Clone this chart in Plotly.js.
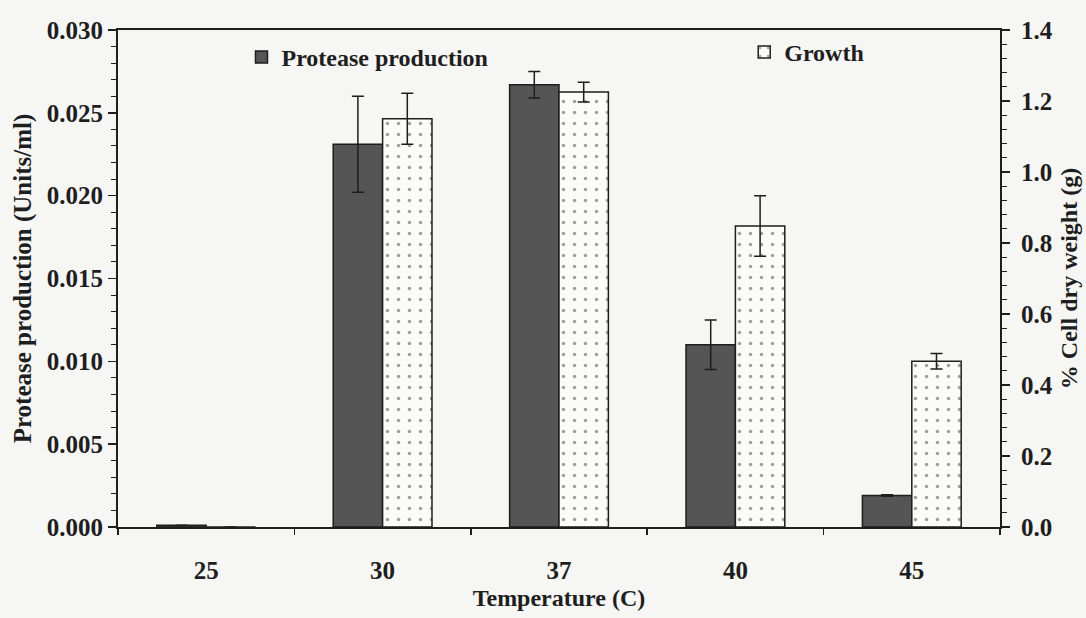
<!DOCTYPE html>
<html>
<head>
<meta charset="utf-8">
<script src="https://cdn.plot.ly/plotly-3.0.1.min.js"></script>
<style>
  html, body { margin: 0; padding: 0; background: #f6f6f4; }
  #chart { width: 1086px; height: 618px; }
</style>
</head>
<body>
<div id="chart"></div>
<script>
// Data
const temperatures = ['25', '30', '37', '40', '45'];
const proteaseProduction = [0.0001, 0.0231, 0.0267, 0.0110, 0.0019];   // Units/ml (left axis)
const proteaseError = [0, 0.0029, 0.0008, 0.0015, 0.00005];
const growth = [0, 1.15, 1.225, 0.848, 0.467];                          // % cell dry weight (right axis)
const growthError = [0, 0.072, 0.028, 0.085, 0.022];

const FONT = 'Liberation Serif, Times New Roman, serif';
const INK = '#1e1e1e';

const traces = [
  {
    type: 'bar',
    name: '<b>Protease production</b>',
    x: temperatures,
    y: proteaseProduction,
    yaxis: 'y',
    width: 0.28,
    offset: -0.28,
    marker: { color: '#555555', line: { color: INK, width: 1.5 } },
    error_y: { type: 'data', array: proteaseError, visible: true, color: INK, thickness: 1.5, width: 6 },
    legend: 'legend'
  },
  {
    type: 'bar',
    name: '<b>Growth</b>',
    x: temperatures,
    y: growth,
    yaxis: 'y2',
    width: 0.28,
    offset: 0,
    marker: {
      color: '#ffffff',
      line: { color: INK, width: 1.5 },
      pattern: { shape: '.', fgcolor: '#444444', bgcolor: '#fbfbfa', size: 11, solidity: 0.08, fillmode: 'overlay' }
    },
    error_y: { type: 'data', array: growthError, visible: true, color: INK, thickness: 1.5, width: 6 },
    legend: 'legend2'
  }
];

const layout = {
  width: 1086,
  height: 618,
  margin: { l: 118, r: 86, t: 30, b: 91 },
  paper_bgcolor: '#f6f6f4',
  plot_bgcolor: '#f6f6f4',
  font: { family: FONT, size: 24, color: INK },
  showlegend: true,
  xaxis: {
    type: 'category',
    tickson: 'boundaries',
    ticks: 'outside',
    ticklen: 6,
    tickcolor: INK,
    tickwidth: 1.5,
    ticklabelstandoff: 20,
    tickfont: { family: FONT, size: 25, color: INK, weight: 'bold' },
    showline: true,
    linecolor: INK,
    linewidth: 2,
    mirror: true,
    showgrid: false,
    zeroline: false,
    title: { text: '<b>Temperature (C)</b>', font: { family: FONT, size: 24, color: INK }, standoff: 6 }
  },
  yaxis: {
    range: [0, 0.030],
    tickvals: [0, 0.005, 0.010, 0.015, 0.020, 0.025, 0.030],
    ticktext: ['0.000', '0.005', '0.010', '0.015', '0.020', '0.025', '0.030'],
    ticks: 'outside',
    ticklen: 8,
    tickwidth: 1.5,
    tickcolor: INK,
    minor: { dtick: 0.001, ticks: 'outside', ticklen: 5, tickcolor: INK, tickwidth: 1 },
    tickfont: { family: FONT, size: 25, color: INK, weight: 'bold' },
    showline: true,
    linecolor: INK,
    linewidth: 2,
    showgrid: false,
    zeroline: false,
    title: { text: '<b>Protease production (Units/ml)</b>', font: { family: FONT, size: 25, color: INK }, standoff: 8 }
  },
  yaxis2: {
    overlaying: 'y',
    side: 'right',
    range: [0, 1.4],
    tickvals: [0, 0.2, 0.4, 0.6, 0.8, 1.0, 1.2, 1.4],
    ticktext: ['0.0', '0.2', '0.4', '0.6', '0.8', '1.0', '1.2', '1.4'],
    ticks: 'outside',
    ticklen: 8,
    tickwidth: 1.5,
    tickcolor: INK,
    minor: { dtick: 0.04, ticks: 'outside', ticklen: 5, tickcolor: INK, tickwidth: 1 },
    tickfont: { family: FONT, size: 25, color: INK, weight: 'bold' },
    ticklabelstandoff: 6,
    showline: true,
    linecolor: INK,
    linewidth: 2,
    showgrid: false,
    zeroline: false,
    title: { text: '<b>% Cell dry weight (g)</b>', font: { family: FONT, size: 24, color: INK }, standoff: 8 }
  },
  legend: {
    x: 0.14, y: 0.99, xanchor: 'left', yanchor: 'top',
    bgcolor: 'rgba(0,0,0,0)',
    font: { family: FONT, size: 24, color: INK },
    itemwidth: 30,
    tracegroupgap: 0
  },
  legend2: {
    x: 0.71, y: 1.0, xanchor: 'left', yanchor: 'top',
    bgcolor: 'rgba(0,0,0,0)',
    font: { family: FONT, size: 24, color: INK },
    itemwidth: 30
  }
};

Plotly.newPlot('chart', traces, layout, { displayModeBar: false, staticPlot: true });
</script>
</body>
</html>
